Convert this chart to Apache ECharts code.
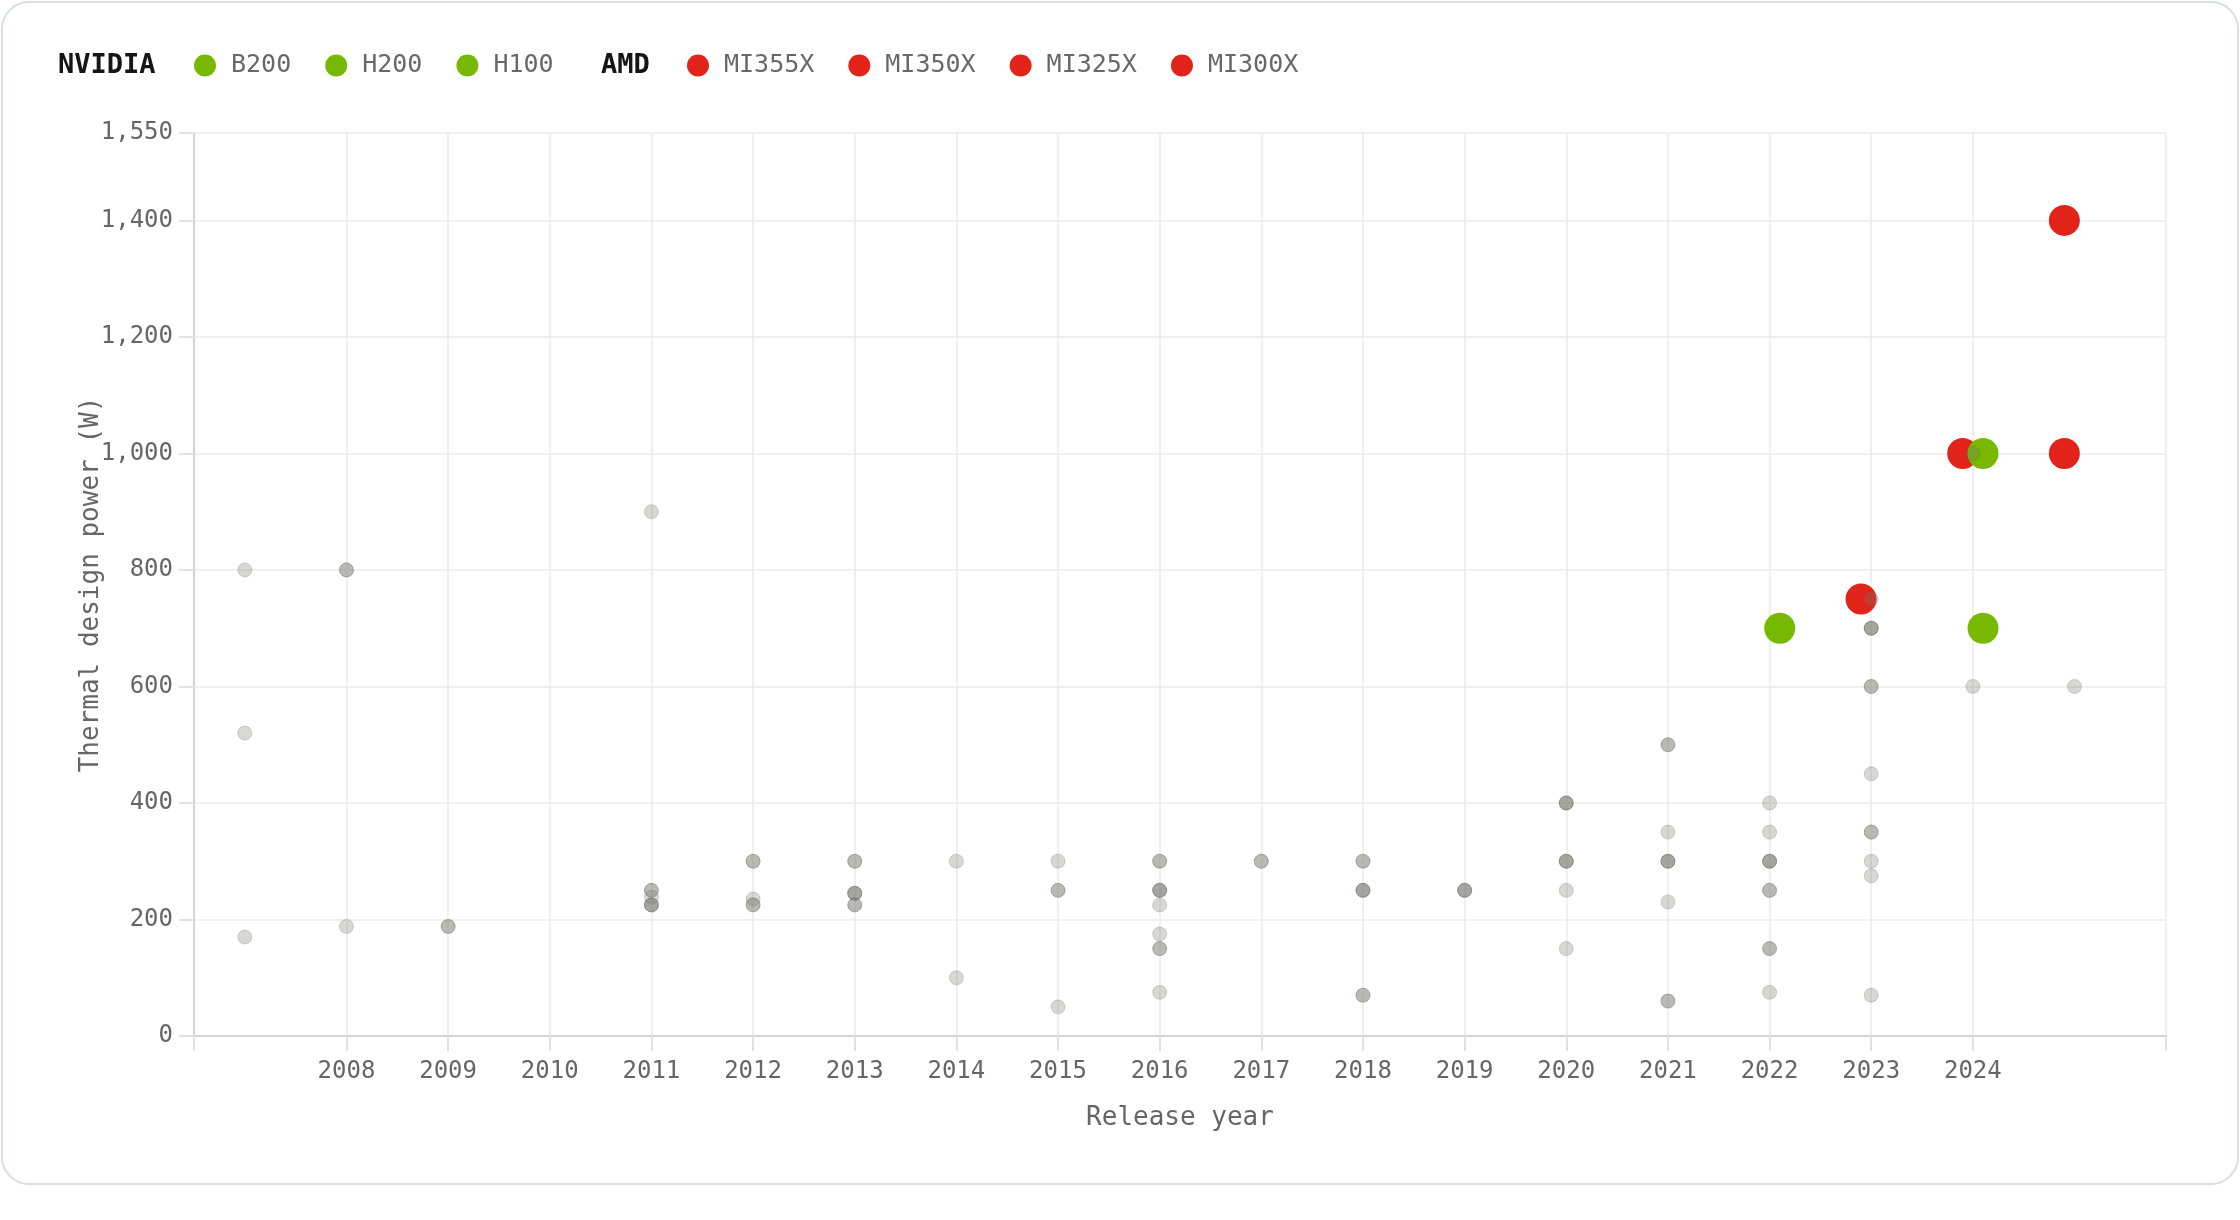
<!DOCTYPE html>
<html>
<head>
<meta charset="utf-8">
<title>GPU thermal design power</title>
<script src="https://cdn.jsdelivr.net/npm/echarts@6/dist/echarts.min.js"></script>
<style>
  html, body { margin: 0; padding: 0; background: #fff; }
  #card {
    position: absolute; left: 1px; top: 1px;
    width: 2234px; height: 1180px;
    border: 2px solid #dadde2; border-radius: 28px;
    background: #fff;
  }
  #main { position: absolute; left: 0; top: 0; width: 2240px; height: 1220px; }
</style>
</head>
<body>
<div id="card"></div>
<div id="main"></div>
<script>
  // highlighted accelerators
  var gpuNames = ["B200", "H200", "H100", "MI355X", "MI350X", "MI325X", "MI300X"];
  var gpuVendor = ["NVIDIA", "NVIDIA", "NVIDIA", "AMD", "AMD", "AMD", "AMD"];
  var gpuYear = [2024, 2024, 2022, 2025, 2025, 2024, 2023];
  var gpuTdp = [1000, 700, 700, 1400, 1000, 1000, 750];

  // every other card: [release year, TDP in W] (repeats = overlapping dots)
  var otherGpus = [
    [2007, 800], [2007, 520], [2007, 170],
    [2008, 800], [2008, 800], [2008, 188],
    [2009, 188], [2009, 188],
    [2011, 900], [2011, 250], [2011, 250], [2011, 238], [2011, 225], [2011, 225], [2011, 225],
    [2012, 300], [2012, 300], [2012, 235], [2012, 225], [2012, 225],
    [2013, 300], [2013, 300], [2013, 245], [2013, 245], [2013, 245], [2013, 225], [2013, 225],
    [2014, 300], [2014, 100],
    [2015, 300], [2015, 250], [2015, 250], [2015, 50],
    [2016, 300], [2016, 300], [2016, 250], [2016, 250], [2016, 250], [2016, 225], [2016, 175],
    [2016, 150], [2016, 150], [2016, 75],
    [2017, 300], [2017, 300],
    [2018, 300], [2018, 300], [2018, 250], [2018, 250], [2018, 250], [2018, 70], [2018, 70],
    [2019, 250], [2019, 250], [2019, 250],
    [2020, 400], [2020, 400], [2020, 400], [2020, 300], [2020, 300], [2020, 300], [2020, 250], [2020, 150],
    [2021, 500], [2021, 500], [2021, 350], [2021, 300], [2021, 300], [2021, 300], [2021, 230],
    [2021, 60], [2021, 60],
    [2022, 400], [2022, 350], [2022, 300], [2022, 300], [2022, 300], [2022, 250], [2022, 250],
    [2022, 150], [2022, 150], [2022, 75],
    [2023, 750], [2023, 700], [2023, 700], [2023, 700], [2023, 600], [2023, 600], [2023, 450],
    [2023, 350], [2023, 350], [2023, 300], [2023, 275], [2023, 70],
    [2024, 1000], [2024, 600],
    [2025, 600]
  ];

  var yearLabels = [2008, 2009, 2010, 2011, 2012, 2013, 2014, 2015, 2016,
    2017, 2018, 2019, 2020, 2021, 2022, 2023, 2024];

  var xMin = 2006.5, xMax = 2025.9;
  var vendorColor = { NVIDIA: "#76b900", AMD: "#e2231a" };
  var vendorShift = { NVIDIA: 0.1, AMD: -0.1 }; // nudge the two vendors apart
  var mono = '"DejaVu Sans Mono", "Liberation Mono", monospace';

  var myChart = echarts.init(document.getElementById("main"));

  var series = gpuNames.map(function (name, i) {
    var v = gpuVendor[i];
    return {
      name: name,
      type: "scatter",
      z: v === "NVIDIA" ? 3 : 2,
      symbolSize: 31,
      itemStyle: { color: vendorColor[v], opacity: 1 },
      data: [[gpuYear[i] + vendorShift[v], gpuTdp[i]]],
    };
  });
  series.push({
    name: "Other",
    type: "scatter",
    z: 4,
    symbolSize: 14,
    itemStyle: {
      color: "rgba(118,118,108,0.37)",
      borderColor: "rgba(95,95,88,0.30)",
      borderWidth: 1,
    },
    data: otherGpus,
  });

  var legendCommon = {
    top: 48,
    orient: "horizontal",
    icon: "circle",
    itemWidth: 42,
    itemHeight: 22,
    itemGap: 34,
    selectedMode: false,
    textStyle: { fontFamily: mono, fontSize: 25, color: "#686868" },
  };

  var option = {
    animation: false,
    backgroundColor: "transparent",
    textStyle: { fontFamily: mono },
    graphic: [
      {
        type: "text", left: 58, top: 52,
        style: { text: "NVIDIA", font: "bold 27px " + mono, fill: "#151515" },
      },
      {
        type: "text", left: 601, top: 52,
        style: { text: "AMD", font: "bold 27px " + mono, fill: "#151515" },
      },
    ],
    legend: [
      Object.assign({}, legendCommon, { left: 189, data: gpuNames.slice(0, 3) }),
      Object.assign({}, legendCommon, { left: 682, data: gpuNames.slice(3) }),
    ],
    grid: {
      left: 194, right: 74, top: 133, bottom: 184,
      containLabel: false,
      outerBoundsMode: "none",
    },
    tooltip: { show: false },
    xAxis: {
      type: "value",
      min: xMin,
      max: xMax,
      name: "Release year",
      nameLocation: "middle",
      nameGap: 69,
      nameMoveOverlap: false,
      nameTextStyle: { fontFamily: mono, fontSize: 26, color: "#666666" },
      axisLine: { show: true, lineStyle: { color: "#d4d4d4", width: 2 } },
      axisTick: {
        show: true, length: 15,
        customValues: [xMin].concat(yearLabels, [xMax]),
        lineStyle: { color: "#e2e2e2", width: 2 },
      },
      axisLabel: {
        customValues: yearLabels,
        margin: 24,
        fontFamily: mono, fontSize: 24, color: "#666666",
        formatter: function (v) { return String(Math.round(v)); },
      },
      splitLine: { show: true, lineStyle: { color: "#ebebeb", width: 1.5 } },
    },
    yAxis: {
      type: "value",
      min: 0,
      max: 1550,
      interval: 200,
      name: "Thermal design power (W)",
      nameLocation: "middle",
      nameGap: 90,
      nameMoveOverlap: false,
      nameTextStyle: { fontFamily: mono, fontSize: 26, color: "#666666" },
      axisLine: { show: true, lineStyle: { color: "#d4d4d4", width: 2 } },
      axisTick: { show: true, length: 15, lineStyle: { color: "#e2e2e2", width: 2 } },
      axisLabel: { margin: 21, fontFamily: mono, fontSize: 24, color: "#666666" },
      splitLine: { show: true, lineStyle: { color: "#ebebeb", width: 1.5 } },
    },
    series: series,
  };

  option && myChart.setOption(option);
  window.addEventListener("resize", function () {
    myChart.resize();
  });
</script>
</body>
</html>
